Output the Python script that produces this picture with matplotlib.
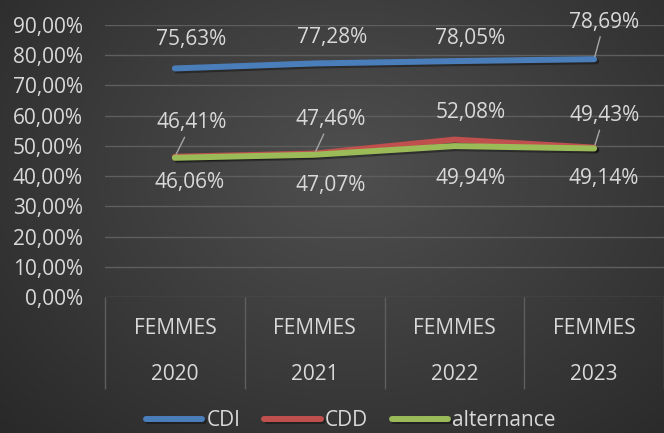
import matplotlib
matplotlib.use('Agg')
import matplotlib.pyplot as plt
import matplotlib.patheffects as pe
import numpy as np

plt.rcParams['font.family'] = ['Open Sans', 'DejaVu Sans']

# data (in %)
groups = ['FEMMES', 'FEMMES', 'FEMMES', 'FEMMES']
years = ['2020', '2021', '2022', '2023']
cdi = [75.63, 77.28, 78.05, 78.69]
cdd = [46.41, 47.46, 52.08, 49.43]
alternance = [46.06, 47.07, 49.94, 49.14]

series = [
    ('CDI', cdi, '#4a7ebb'),
    ('CDD', cdd, '#c0504d'),
    ('alternance', alternance, '#9bbb59'),
]

# data label placement: offset in pixels from the point, leader line or not
label_offsets = {
    'CDI': [(16, 29), (18, 26), (16, 23), (10, 37)],
    'CDD': [(17, 34), (16, 34), (16, 27), (10, 32)],
    'alternance': [(15, -25), (16, -31), (16, -32), (10, -30)],
}
leaders = {
    'CDI': [False, False, False, True],
    'CDD': [True, True, False, True],
    'alternance': [False, False, False, False],
}

TXT = '#d9d9d9'
GRID = '#5e5e5e'
FS = 15

fig = plt.figure(figsize=(6.64, 4.33), dpi=100)

# radial gradient background
bg = fig.add_axes([0, 0, 1, 1], zorder=-10)
yy, xx = np.mgrid[0:433, 0:664]
r = np.sqrt(((xx - 350) / 420.0) ** 2 + ((yy - 170) / 330.0) ** 2)
shade = np.clip(0.31 - 0.13 * r, 0.16, 0.31)
bg.imshow(np.dstack([shade] * 3), aspect='auto', extent=[0, 1, 0, 1])
bg.axis('off')

ax = fig.add_axes([105 / 664, 1 - 297 / 433, 1 - 105 / 664, (297 - 25) / 433])
ax.set_facecolor('none')

x = np.arange(len(years))
handles = []
for name, vals, color in series:
    ln, = ax.plot(x, vals, color=color, lw=4.3, solid_capstyle='round',
                  zorder=3,
                  path_effects=[pe.SimpleLineShadow(offset=(1.5, -1.5),
                                                    alpha=0.35,
                                                    shadow_color='black'),
                                pe.Normal()])
    handles.append(ln)
    for i, v in enumerate(vals):
        dx, dy = label_offsets[name][i]
        txt = ('%.2f%%' % v).replace('.', ',')
        props = None
        if leaders[name][i]:
            props = dict(arrowstyle='-', color='#a6a6a6', lw=1,
                         shrinkA=1, shrinkB=2)
        ax.annotate(txt, (x[i], v), xytext=(dx, dy),
                    textcoords='offset pixels', ha='center', va='center',
                    color=TXT, fontsize=FS, arrowprops=props, zorder=4)

ax.set_xlim(-0.5, len(years) - 0.5)
ax.set_ylim(0, 90)
ax.set_yticks(np.arange(0, 91, 10))
ax.set_yticklabels([('%.2f%%' % t).replace('.', ',')
                    for t in np.arange(0, 91, 10)])
ax.yaxis.grid(True, color=GRID, lw=1)
ax.set_axisbelow(True)
ax.tick_params(axis='y', length=0, pad=16, labelsize=FS, labelcolor=TXT)

# category separators below the axis
ax.set_xticks([])
ax.set_xticks(np.arange(-0.5, len(years)), minor=True)
ax.tick_params(axis='x', which='minor', length=66, width=1, color=GRID,
               direction='out', labelbottom=False)
for s in ax.spines.values():
    s.set_visible(False)

for i, (g, yr) in enumerate(zip(groups, years)):
    ax.annotate(g, (i, 0), xycoords=('data', 'axes fraction'),
                xytext=(0, -31), textcoords='offset pixels',
                ha='center', va='center', color=TXT, fontsize=FS)
    ax.annotate(yr, (i, 0), xycoords=('data', 'axes fraction'),
                xytext=(0, -77), textcoords='offset pixels',
                ha='center', va='center', color=TXT, fontsize=FS)

leg = fig.legend(handles, [s[0] for s in series], loc='center',
                 bbox_to_anchor=(351 / 664, 12 / 433), ncol=3, frameon=False,
                 fontsize=FS, handlelength=2.7, handletextpad=0.2,
                 columnspacing=1.15, borderpad=0.1)
for t in leg.get_texts():
    t.set_color(TXT)

fig.savefig('out.png', dpi=100)
